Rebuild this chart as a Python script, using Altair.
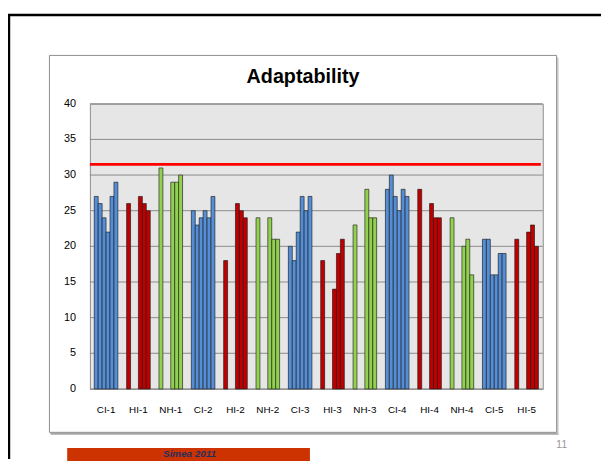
import altair as alt
import pandas as pd

categories = ["CI-1", "HI-1", "NH-1", "CI-2", "HI-2", "NH-2", "CI-3",
              "HI-3", "NH-3", "CI-4", "HI-4", "NH-4", "CI-5", "HI-5"]
s1 = [27, 26, 31, 25, 18, 24, 20, 18, 23, 28, 28, 24, 21, 21]
s2 = [26, None, None, 23, None, None, 18, None, None, 30, None, None, 21, None]
s3 = [24, None, None, 24, None, None, 22, None, None, 27, None, None, 16, None]
s4 = [22, 27, 29, 25, 26, 24, 27, 14, 28, 25, 26, 20, 16, 22]
s5 = [27, 26, 29, 24, 25, 21, 25, 19, 24, 28, 24, 21, 19, 23]
s6 = [29, 25, 30, 27, 24, 21, 27, 21, 24, 27, 24, 16, 19, 20]
series = [s1, s2, s3, s4, s5, s6]
slots = ["1", "2", "3", "4", "5", "6"]
y_ticks = [0, 5, 10, 15, 20, 25, 30, 35, 40]
threshold = 31.5
title_text = "Adaptability"
footer_text = "Simea 2011"
page_no = "11"

rows = []
for si, s in enumerate(series):
    for ci, cat in enumerate(categories):
        if s[ci] is not None:
            rows.append({"cat": cat, "slot": slots[si], "value": s[ci], "type": cat.split("-")[0]})
df = pd.DataFrame(rows)
ticks_df = pd.DataFrame({"value": y_ticks, "label": [str(v) for v in y_ticks]})

W, H = 459, 289
x_enc = alt.X("cat:N", sort=categories,
              scale=alt.Scale(paddingInner=0.27, paddingOuter=0.135),
              axis=alt.Axis(title=None, labelAngle=0, ticks=False, domain=False,
                            labelPadding=16, labelFontSize=10, labelColor="#000000",
                            labelFont="Liberation Sans", grid=False))
y_scale = alt.Scale(domain=[0, 40], nice=False, zero=True)
y_enc = alt.Y("value:Q", scale=y_scale, axis=None)
xo = alt.XOffset("slot:N", scale=alt.Scale(domain=slots, paddingInner=0, paddingOuter=0))

grid = alt.Chart(ticks_df).mark_rule(color="#8a8a8a", strokeWidth=1).encode(
    y=y_enc, x=alt.value(0), x2=alt.value(W))
ylabels = alt.Chart(ticks_df).mark_text(font="Liberation Sans", fontSize=11, color="#000000",
                                        align="right", baseline="middle").encode(
    y=y_enc, x=alt.value(-14), text="label:N")
shadow = alt.Chart(df).mark_bar(color="#9a9a9a", xOffset=1.2).encode(
    x=x_enc, y=y_enc, xOffset=xo)
bars = alt.Chart(df).mark_bar(stroke="#1a1a1a", strokeWidth=0.6).encode(
    x=x_enc, y=y_enc, xOffset=xo,
    color=alt.Color("type:N", scale=alt.Scale(domain=["CI", "HI", "NH"],
                                              range=["#558ED5", "#C00000", "#92D050"]),
                    legend=None))
red = alt.Chart(pd.DataFrame({"value": [threshold]})).mark_rule(
    color="#FF0000", strokeWidth=3).encode(y=y_enc, x=alt.value(0), x2=alt.value(W - 2))

one = alt.Data(values=[{}])
outer_top = alt.Chart(one).mark_rule(color="#000000", strokeWidth=2.5).encode(
    x=alt.value(-83), x2=alt.value(518), y=alt.value(-90))
outer_left = alt.Chart(one).mark_rule(color="#000000", strokeWidth=2.5).encode(
    x=alt.value(-82), y=alt.value(-91), y2=alt.value(360))
shadow_b = alt.Chart(one).mark_rule(color="#a6a6a6", strokeWidth=2).encode(
    x=alt.value(-40), x2=alt.value(475), y=alt.value(334.5))
shadow_r = alt.Chart(one).mark_rule(color="#c8c8c8", strokeWidth=1.5).encode(
    x=alt.value(474.2), y=alt.value(-47), y2=alt.value(335))
box = alt.Chart(one).mark_rect(fill="transparent", stroke="#8c8c8c", strokeWidth=1).encode(
    x=alt.value(-41), x2=alt.value(473), y=alt.value(-49), y2=alt.value(333))
title = alt.Chart(one).mark_text(text=title_text, font="Liberation Sans", fontSize=20,
                                 fontWeight="bold", color="#000000", align="center",
                                 baseline="alphabetic").encode(
    x=alt.value(216), y=alt.value(-21))
footer = alt.Chart(one).mark_rect(color="#CC3300").encode(
    x=alt.value(-23), x2=alt.value(223), y=alt.value(349), y2=alt.value(362))
footer_t = alt.Chart(one).mark_text(text=footer_text, font="Liberation Sans", fontSize=10,
                                    fontStyle="italic", fontWeight="bold", color="#1F3060",
                                    align="center", baseline="middle").encode(
    x=alt.value(101), y=alt.value(355))
pno = alt.Chart(one).mark_text(text=page_no, font="Liberation Sans", fontSize=11,
                               color="#9a9a9a", align="center", baseline="middle").encode(
    x=alt.value(478), y=alt.value(346))

chart = alt.layer(outer_top, outer_left, shadow_b, shadow_r, box, grid, ylabels,
                  shadow, bars, red, title, footer, footer_t, pno).properties(
    width=W, height=H,
    padding={"left": 83, "top": 94, "right": 59, "bottom": 70},
    autosize=alt.AutoSizeParams(type="none"),
).configure_view(fill="#E6E6E6", stroke="#8c8c8c", strokeWidth=1)

chart.save("out.html", embed_options={"renderer": "svg", "actions": False})
